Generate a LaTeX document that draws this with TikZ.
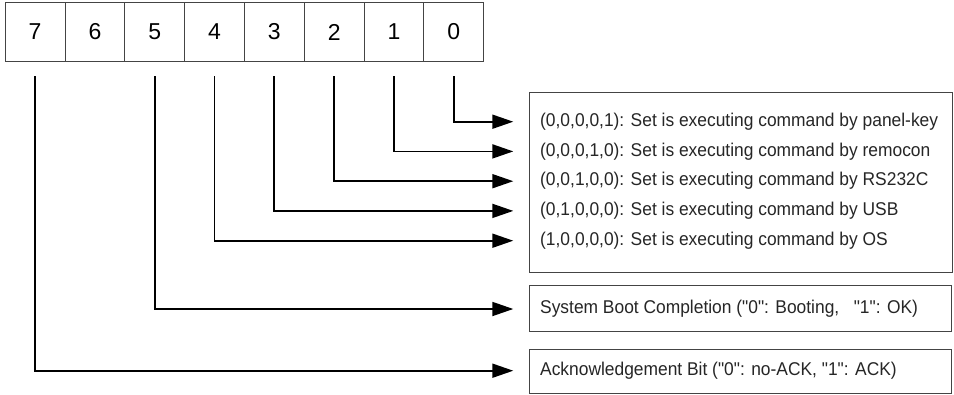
\documentclass[tikz,border=0pt]{standalone}
\usepackage{fontspec}
\setmainfont{Liberation Sans}
\newfontfamily\notefont[FakeStretch=0.94]{Liberation Sans}
\usetikzlibrary{arrows.meta}
\definecolor{edgegray}{HTML}{444444}
\tikzset{
  bitcell/.style={draw=edgegray, line width=1pt, minimum width=59.8pt,
    minimum height=59pt, inner sep=0pt, anchor=north west,
    font=\fontsize{23}{26}\selectfont},
  notebox/.style={draw=edgegray, line width=1.3pt, inner sep=0pt,
    anchor=north west},
  note/.style={anchor=west, inner sep=0pt, text=black!85,
    font=\notefont\fontsize{18.5}{21}\selectfont},
  link/.style={line width=1.8pt, -{Triangle[length=21pt,width=14pt]}}
}
\begin{document}
\begin{tikzpicture}[x=1pt,y=-1pt]
  \useasboundingbox (0,0) rectangle (954,394);
  \fill[white] (0,0) rectangle (954,394);

  % register bits 7..0
  \foreach \b [count=\i from 0] in {7,6,5,4,3,2,1,0} {
    \node[bitcell] (c\b) at (4.7+59.82*\i, 2) {\b};
    \coordinate (s\b) at ([yshift=-14pt]c\b.south);
  }

  % description boxes
  \node[notebox, minimum width=422.5pt, minimum height=180pt] (big) at (529,91.7) {};
  \node[notebox, minimum width=422pt, minimum height=45.7pt] (boot) at (529,285) {};
  \node[notebox, minimum width=422pt, minimum height=44pt] (ack) at (529,349) {};

  % texts
  \node[note] (t0) at (540,121.7) {(0,0,0,0,1): Set is executing command by panel-key};
  \node[note] (t1) at (540,151.4) {(0,0,0,1,0): Set is executing command by remocon};
  \node[note] (t2) at (540,181.2) {(0,0,1,0,0): Set is executing command by RS232C};
  \node[note] (t3) at (540,210.9) {(0,1,0,0,0): Set is executing command by USB};
  \node[note] (t4) at (540,240.7) {(1,0,0,0,0): Set is executing command by OS};
  \node[note] (t5) at (540,309) {System Boot Completion ("0": Booting, \ \ "1": OK)};
  \node[note] (t7) at (540,370.7) {Acknowledgement Bit ("0": no-ACK, "1": ACK)};

  % arrow tips in front of the boxes
  \foreach \b in {0,1,2,3,4,5,7} {
    \coordinate (e\b) at ([xshift=-26.7pt]t\b.west);
  }

  % connectors
  \foreach \b in {0,1,2,3,4,5,7} {
    \draw[link] (s\b) |- (e\b);
  }
\end{tikzpicture}
\end{document}
